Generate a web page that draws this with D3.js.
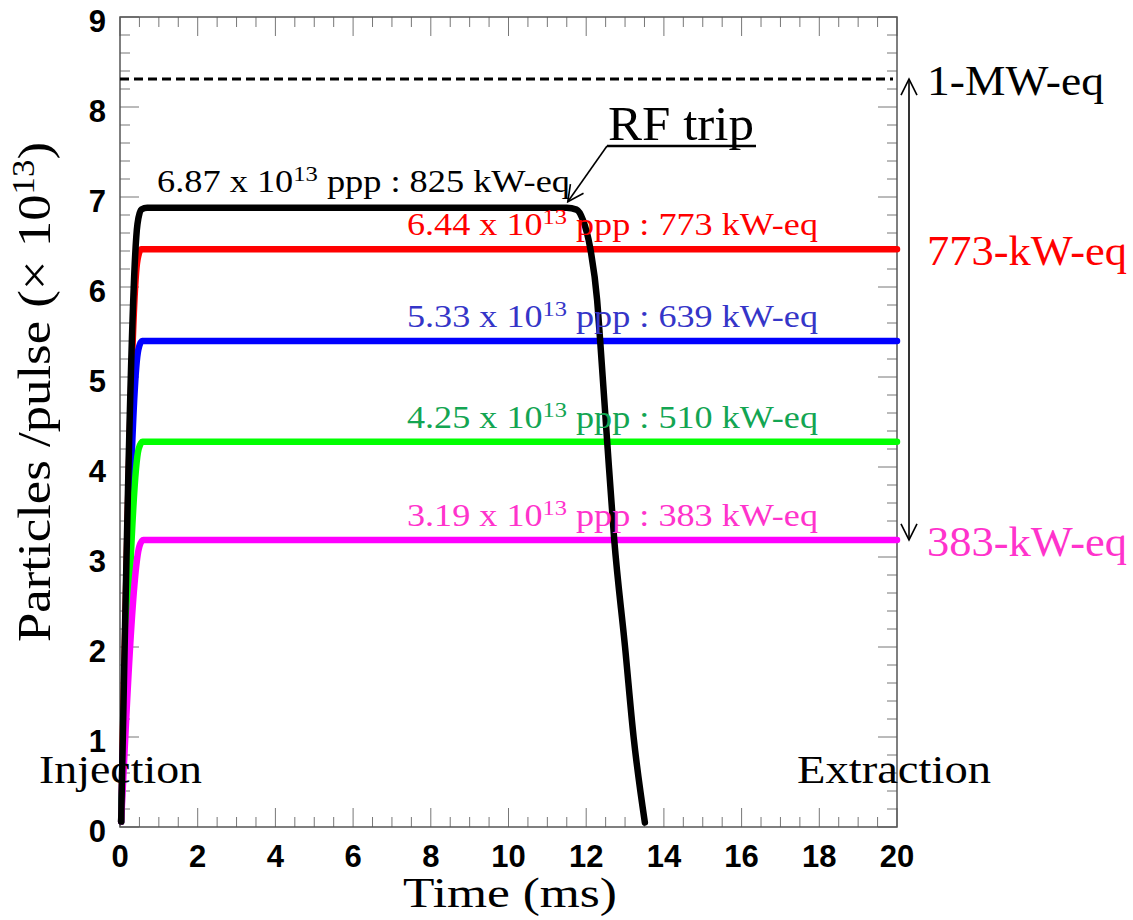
<!DOCTYPE html>
<html>
<head>
<meta charset="utf-8">
<script src="https://cdn.jsdelivr.net/npm/d3@7"></script>
<style>
  body { margin: 0; background: #fff; }
  .serif { font-family: "Liberation Serif", "DejaVu Serif", serif; }
  .tick-lbl { font-family: "Liberation Sans", Arial, sans-serif; font-weight: bold; font-size: 31px; }
</style>
</head>
<body>
<div id="chart"></div>
<script>
// Beam intensity during the acceleration cycle (x 10^13 particles / pulse)
var seriesNames = ["825 kW-eq", "773 kW-eq", "639 kW-eq", "510 kW-eq", "383 kW-eq"];
var seriesColors = ["#000000", "#ff0000", "#0000ff", "#00ff00", "#ff00ff"];
var labelColors = ["#000000", "#ff0000", "#3535c8", "#13a552", "#ff33cc"];
var labelMantissa = ["6.87", "6.44", "5.33", "4.25", "3.19"];
var labelKw = ["825", "773", "639", "510", "383"];

var pulseBlack = [[0.03, 0.06], [0.45, 6.7], [0.55, 6.86], [0.7, 6.88], [11.5, 6.88],
  [11.75, 6.86], [11.92, 6.74], [12.1, 6.44], [12.28, 5.86], [12.36, 5.4], [12.54, 4.28],
  [12.72, 3.2], [13.0, 2.0], [13.22, 1.0], [13.51, 0.05]];
var pulseRed = [[0.03, 0.06], [0.45, 6.3], [0.55, 6.42], [20, 6.42]];
var pulseBlue = [[0.03, 0.06], [0.47, 5.3], [0.57, 5.4], [20, 5.4]];
var pulseGreen = [[0.03, 0.06], [0.48, 4.2], [0.58, 4.28], [20, 4.28]];
var pulseMagenta = [[0.03, 0.06], [0.5, 3.12], [0.6, 3.19], [20, 3.19]];

var oneMW = 8.31;       // 1-MW-eq level
var rfTrip = [11.5, 6.88]; // where the RF trip arrow points

var W = 1133, H = 920;
var x = d3.scaleLinear().domain([0, 20]).range([120, 897]);
var y = d3.scaleLinear().domain([0, 9]).range([827, 17]);

var svg = d3.select("#chart").append("svg").attr("width", W).attr("height", H);

var defs = svg.append("defs");
defs.append("marker")
  .attr("id", "openhead")
  .attr("viewBox", "0 0 20 20")
  .attr("refX", 18).attr("refY", 10)
  .attr("markerWidth", 20).attr("markerHeight", 20)
  .attr("markerUnits", "userSpaceOnUse")
  .attr("orient", "auto-start-reverse")
  .append("path")
  .attr("d", "M2,2 L18,10 L2,18")
  .attr("fill", "none")
  .attr("stroke", "#000")
  .attr("stroke-width", 1.6);

// ticks: majors + minors on all four sides (ROOT style)
var tickColor = "#777";
var xMinor = d3.range(0, 20.01, 0.5);
var yMinor = d3.range(0, 9.01, 0.2);
var G = svg.append("g");

G.selectAll(".xt").data(xMinor).join("line")
  .attr("x1", function (d) { return x(d); }).attr("x2", function (d) { return x(d); })
  .attr("y1", y(0)).attr("y2", function (d, i) { return y(0) - (i % 4 === 0 ? 19 : 10); })
  .attr("stroke", tickColor).attr("stroke-width", 1);
G.selectAll(".xtt").data(xMinor).join("line")
  .attr("x1", function (d) { return x(d); }).attr("x2", function (d) { return x(d); })
  .attr("y1", y(9)).attr("y2", function (d, i) { return y(9) + (i % 4 === 0 ? 19 : 10); })
  .attr("stroke", tickColor).attr("stroke-width", 1);
G.selectAll(".yt").data(yMinor).join("line")
  .attr("y1", function (d) { return y(d); }).attr("y2", function (d) { return y(d); })
  .attr("x1", x(0)).attr("x2", function (d, i) { return x(0) + (i % 5 === 0 ? 19 : 10); })
  .attr("stroke", tickColor).attr("stroke-width", 1);
G.selectAll(".ytr").data(yMinor).join("line")
  .attr("y1", function (d) { return y(d); }).attr("y2", function (d) { return y(d); })
  .attr("x1", x(20)).attr("x2", function (d, i) { return x(20) - (i % 5 === 0 ? 19 : 10); })
  .attr("stroke", tickColor).attr("stroke-width", 1);

// frame
svg.append("rect")
  .attr("x", x(0)).attr("y", y(9))
  .attr("width", x(20) - x(0)).attr("height", y(0) - y(9))
  .attr("fill", "none").attr("stroke", "#555").attr("stroke-width", 1.5);

// tick labels
svg.selectAll(".xl").data(d3.range(0, 21, 2)).join("text")
  .attr("class", "tick-lbl")
  .attr("x", function (d) { return x(d); })
  .attr("y", 867)
  .attr("text-anchor", "middle")
  .text(function (d) { return d; });
svg.selectAll(".yl").data(d3.range(0, 10, 1)).join("text")
  .attr("class", "tick-lbl")
  .attr("x", 106)
  .attr("y", function (d) { return y(d) + 15; })
  .attr("text-anchor", "end")
  .text(function (d) { return d; });

// 1-MW-eq dashed level
svg.append("line")
  .attr("x1", x(0)).attr("x2", x(20) - 4)
  .attr("y1", y(oneMW)).attr("y2", y(oneMW))
  .attr("stroke", "#000").attr("stroke-width", 3)
  .attr("stroke-dasharray", "9,5");

// beam curves
var line = d3.line()
  .x(function (d) { return x(d[0]); })
  .y(function (d) { return y(d[1]); })
  .curve(d3.curveMonotoneX);

var curves = [pulseBlack, pulseRed, pulseBlue, pulseGreen, pulseMagenta];
var drawOrder = [1, 2, 3, 4, 0];
drawOrder.forEach(function (i) {
  svg.append("path")
    .attr("d", line(curves[i]))
    .attr("fill", "none")
    .attr("stroke", seriesColors[i])
    .attr("stroke-width", 6.5)
    .attr("stroke-linejoin", "round")
    .attr("stroke-linecap", "round");
});

// curve labels (the original font is wider, so the glyphs are stretched a bit)
var levels = [6.88, 6.42, 5.4, 4.28, 3.19];
labelMantissa.forEach(function (m, i) {
  var t = svg.append("text")
    .attr("class", "serif")
    .attr("x", i === 0 ? 157 : 407)
    .attr("y", y(levels[i]) - (i === 0 ? 16 : 14))
    .attr("fill", labelColors[i])
    .attr("textLength", i === 0 ? 413 : 411)
    .attr("lengthAdjust", "spacingAndGlyphs")
    .style("font-size", "31px");
  t.append("tspan").text(m + " x 10");
  t.append("tspan").attr("dy", -11).style("font-size", "21px").text("13");
  t.append("tspan").attr("dy", 11).text(" ppp : " + labelKw[i] + " kW-eq");
});

// RF trip annotation
svg.append("text")
  .attr("class", "serif")
  .attr("x", 608).attr("y", 140)
  .attr("textLength", 146).attr("lengthAdjust", "spacingAndGlyphs")
  .style("font-size", "48px")
  .text("RF trip");
svg.append("line")
  .attr("x1", 607).attr("x2", 756)
  .attr("y1", 146).attr("y2", 146)
  .attr("stroke", "#000").attr("stroke-width", 2.5);
svg.append("line")
  .attr("x1", 607).attr("y1", 146)
  .attr("x2", x(rfTrip[0]) + 1).attr("y2", y(rfTrip[1]) - 6)
  .attr("stroke", "#000").attr("stroke-width", 1.6)
  .attr("marker-end", "url(#openhead)");

// range arrow 383 -> 1 MW
svg.append("line")
  .attr("x1", 909).attr("x2", 909)
  .attr("y1", y(3.19)).attr("y2", y(oneMW))
  .attr("stroke", "#000").attr("stroke-width", 1.6)
  .attr("marker-start", "url(#openhead)")
  .attr("marker-end", "url(#openhead)");

var sideLabels = [["1-MW-eq", oneMW, "#000", 177], ["773-kW-eq", 6.42, "#ff0000", 200], ["383-kW-eq", 3.19, "#ff33cc", 200]];
svg.selectAll(".side").data(sideLabels).join("text")
  .attr("class", "serif")
  .attr("x", 927)
  .attr("y", function (d) { return y(d[1]) + 16; })
  .attr("fill", function (d) { return d[2]; })
  .attr("textLength", function (d) { return d[3]; })
  .attr("lengthAdjust", "spacingAndGlyphs")
  .style("font-size", "43px")
  .text(function (d) { return d[0]; });

svg.append("text").attr("class", "serif")
  .attr("x", 39).attr("y", 783).style("font-size", "41px")
  .attr("textLength", 163).attr("lengthAdjust", "spacingAndGlyphs")
  .text("Injection");
svg.append("text").attr("class", "serif")
  .attr("x", 797).attr("y", 783).style("font-size", "41px")
  .attr("textLength", 194).attr("lengthAdjust", "spacingAndGlyphs")
  .text("Extraction");

// axis titles
svg.append("text").attr("class", "serif")
  .attr("x", 403).attr("y", 907)
  .attr("textLength", 214).attr("lengthAdjust", "spacingAndGlyphs")
  .style("font-size", "42px")
  .text("Time (ms)");

var yt = svg.append("text").attr("class", "serif")
  .attr("transform", "translate(50,642) rotate(-90)")
  .attr("textLength", 500).attr("lengthAdjust", "spacingAndGlyphs")
  .style("font-size", "47px");
yt.append("tspan").text("Particles /pulse (\u00d7 10");
yt.append("tspan").attr("dy", -16).style("font-size", "31px").text("13");
yt.append("tspan").attr("dy", 16).text(")");
</script>
</body>
</html>
